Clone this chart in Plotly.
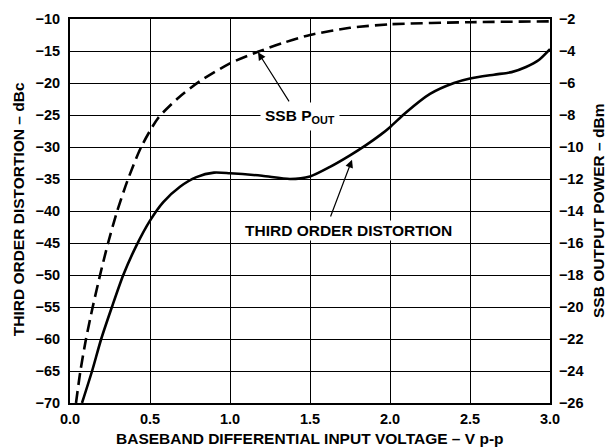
import plotly.graph_objects as go

# third order distortion (left axis, dBc) vs baseband input voltage (V p-p)
tod_v = [0.075, 0.138, 0.195, 0.262, 0.333, 0.415, 0.5, 0.583, 0.6875, 0.79, 0.9, 1.0,
         1.2, 1.375, 1.5, 1.625, 1.75, 1.85, 1.94, 2.0, 2.1, 2.25, 2.4, 2.5,
         2.65, 2.76, 2.85, 2.93, 3.0]
tod_dbc = [-70, -65, -60, -55, -50, -45.4, -41.5, -38.6, -36.2, -34.7, -34.0, -34.1,
           -34.5, -35.0, -34.6, -33.1, -31.3, -29.7, -28.1, -26.9, -24.6, -21.7, -20.0, -19.3,
           -18.7, -18.3, -17.5, -16.4, -14.7]

# SSB output power (right axis, dBm)
ssb_v = [0.0375, 0.065, 0.1, 0.142, 0.188, 0.238, 0.295, 0.363, 0.445, 0.55,
         0.68, 0.81, 1.0, 1.175, 1.33, 1.5, 1.75, 2.0, 2.5, 3.0]
ssb_dbm = [-26, -24, -22, -20, -18, -16, -14, -12, -10, -8.2,
           -6.9, -5.9, -4.77, -4.05, -3.5, -3.0, -2.55, -2.33, -2.2, -2.15]

FONT = "Liberation Sans, Arial, Helvetica, sans-serif"

fig = go.Figure()
fig.add_trace(go.Scatter(x=tod_v, y=tod_dbc, mode="lines", line_shape="spline",
                         line=dict(color="black", width=2.6, smoothing=0.7),
                         name="THIRD ORDER DISTORTION", yaxis="y"))
fig.add_trace(go.Scatter(x=ssb_v, y=ssb_dbm, mode="lines", line_shape="spline",
                         line=dict(color="black", width=2.6, dash="12px,6px", smoothing=0.7),
                         name="SSB POUT", yaxis="y2"))

tick_font = dict(family=FONT, size=14.5, color="black", weight="bold")
clear = "rgba(0,0,0,0)"

fig.update_layout(
    width=612, height=447,
    margin=dict(l=70, r=62, t=19, b=44),
    paper_bgcolor="white", plot_bgcolor="white",
    showlegend=False,
    template="none",
    xaxis=dict(range=[0, 3], dtick=0.5, tickformat=".1f",
               showgrid=True, gridcolor="#000000", gridwidth=1.2,
               showline=True, linecolor="#000000", linewidth=2, mirror=True,
               zeroline=False, ticks="outside", ticklen=2, tickcolor=clear,
               tickfont=tick_font),
    yaxis=dict(range=[-70, -10], dtick=5,
               showgrid=True, gridcolor="#000000", gridwidth=1.2,
               showline=True, linecolor="#000000", linewidth=2, mirror=True,
               zeroline=False, ticks="outside", ticklen=5, tickcolor=clear,
               tickfont=tick_font),
    yaxis2=dict(range=[-26, -2], dtick=2, overlaying="y", side="right",
                showgrid=False, zeroline=False, showline=False,
                ticks="outside", ticklen=5, tickcolor=clear,
                tickfont=tick_font),
)

bold = dict(family=FONT, size=15.5, color="black", weight="bold")
annotations = [
    # curve labels
    dict(x=1.4375, y=-25.3, xref="x", yref="y", text="SSB P<sub>OUT</sub>",
         showarrow=False, bgcolor="white", borderpad=4, font=bold,
         xanchor="center", yanchor="middle"),
    dict(x=1.7375, y=-43.0, xref="x", yref="y", text="THIRD ORDER DISTORTION",
         showarrow=False, bgcolor="white", borderpad=1, font=bold,
         xanchor="center", yanchor="middle"),
    # arrows
    dict(x=1.175, y=-15.2, ax=1.375, ay=-23.1, xref="x", yref="y", axref="x", ayref="y",
         text="", showarrow=True, arrowhead=2, arrowsize=1.3, arrowwidth=1.2, arrowcolor="black"),
    dict(x=1.7625, y=-32.0, ax=1.625, ay=-41.1, xref="x", yref="y", axref="x", ayref="y",
         text="", showarrow=True, arrowhead=2, arrowsize=1.3, arrowwidth=1.2, arrowcolor="black"),
    # axis titles
    dict(x=-0.108, y=0.505, xref="paper", yref="paper", text="THIRD ORDER DISTORTION – dBc",
         textangle=-90, showarrow=False, font=bold, xanchor="center", yanchor="middle"),
    dict(x=1.1, y=0.5, xref="paper", yref="paper", text="SSB OUTPUT POWER – dBm",
         textangle=-90, showarrow=False, font=bold, xanchor="center", yanchor="middle"),
    dict(x=0.5, y=-0.093, xref="paper", yref="paper",
         text="BASEBAND DIFFERENTIAL INPUT VOLTAGE – V p-p",
         showarrow=False, font=bold, xanchor="center", yanchor="middle"),
]
fig.update_layout(annotations=annotations)

# the page body has a default 8px margin; drop it so the figure fills the window
fig.write_html("out.html", config={"displayModeBar": False},
               post_script="document.body.style.margin='0';")
